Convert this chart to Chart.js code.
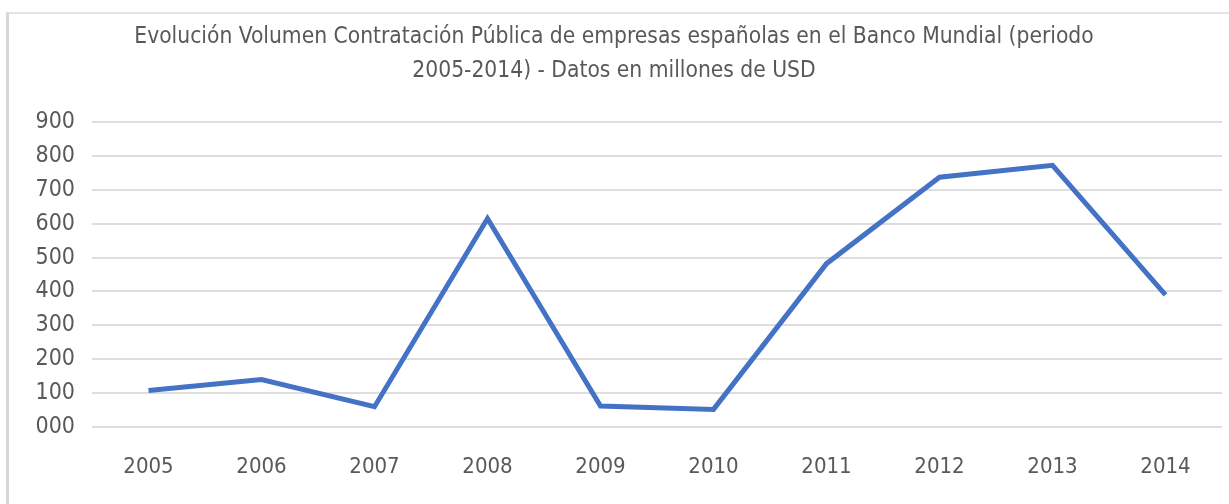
<!DOCTYPE html>
<html lang="es">
<head>
<meta charset="utf-8">
<title>Contratación Pública - Banco Mundial</title>
<script src="https://cdn.jsdelivr.net/npm/chart.js@4/dist/chart.umd.min.js"></script>
<style>
  html, body { margin: 0; padding: 0; background: #ffffff; }
  #wrap { position: relative; width: 1229px; height: 504px; overflow: hidden; }
  #frame {
    position: absolute; left: 6px; top: 12px; right: -10px; bottom: -10px;
    border-top: 2px solid #e3e3e3; border-left: 3px solid #d6d6d6;
  }
  #chart { position: absolute; left: 0; top: 0; }
</style>
</head>
<body>
<div id="wrap">
  <div id="frame"></div>
  <canvas id="chart" width="1229" height="504"></canvas>
</div>
<script>
// Años del periodo analizado
const years = ['2005', '2006', '2007', '2008', '2009', '2010', '2011', '2012', '2013', '2014'];
// Volumen de contratación (millones de USD)
const volume = [108, 140, 60, 615, 62, 52, 482, 737, 772, 390];
// Título en dos líneas
const titleLines = [
  'Evolución Volumen Contratación Pública de empresas españolas en el Banco Mundial (periodo',
  '2005-2014) - Datos en millones de USD'
];

const FONT = '"Liberation Sans Narrow", "DejaVu Sans Condensed", "Liberation Sans", sans-serif';
const TEXT = '#595959';

new Chart(document.getElementById('chart'), {
  type: 'line',
  data: {
    labels: years,
    datasets: [{
      data: volume,
      borderColor: '#4472C4',
      borderWidth: 5,
      pointRadius: 0,
      tension: 0,
      fill: false
    }]
  },
  options: {
    responsive: false,
    animation: false,
    layout: { padding: { left: 6, right: 7, top: 0, bottom: 0 } },
    plugins: {
      legend: { display: false },
      tooltip: { enabled: false },
      title: {
        display: true,
        text: titleLines,
        color: TEXT,
        font: { family: FONT, size: 22.6, weight: 'normal', lineHeight: '34px' },
        padding: { top: 20, bottom: 34 }
      }
    },
    scales: {
      x: {
        offset: true,
        grid: { display: false, drawTicks: false },
        border: { display: false },
        ticks: {
          color: TEXT,
          font: { family: FONT, size: 22 },
          padding: 27,
          maxRotation: 0,
          autoSkip: false
        },
        afterFit: (s) => { s.height = 77; }
      },
      y: {
        min: 0,
        max: 900,
        grid: { color: '#dedede', lineWidth: 2, drawTicks: false },
        border: { display: false },
        ticks: {
          stepSize: 100,
          autoSkip: false,
          color: TEXT,
          font: { family: FONT, size: 23 },
          padding: 17,
          callback: (v) => String(v).padStart(3, '0')
        },
        afterFit: (s) => { s.width = 86; }
      }
    }
  }
});
</script>
</body>
</html>
